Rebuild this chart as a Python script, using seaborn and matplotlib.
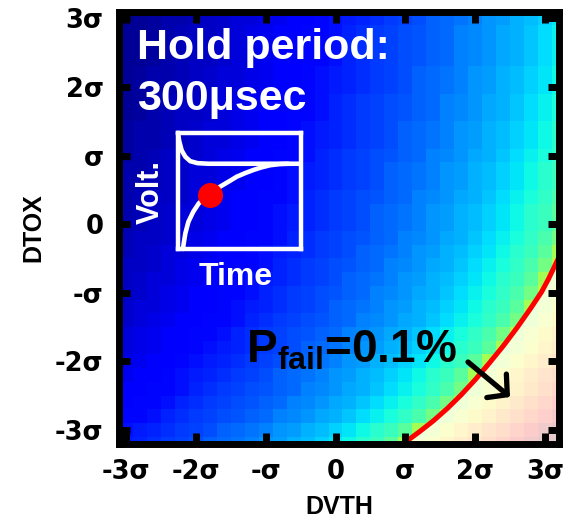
import numpy as np
import pandas as pd
import matplotlib
matplotlib.use("Agg")
import matplotlib.pyplot as plt
import seaborn as sns
from matplotlib.patches import Polygon

# ---------------- data ----------------
dvth_sigma = [-3.0, -2.8, -2.6, -2.4, -2.2, -2.0, -1.8, -1.6, -1.4, -1.2, -1.0, -0.8,
              -0.6, -0.4, -0.2, 0.0, 0.2, 0.4, 0.6, 0.8, 1.0, 1.2, 1.4, 1.6,
              1.8, 2.0, 2.2, 2.4, 2.6, 2.8, 3.0, 3.2]
dtox_sigma = [3.0, 2.8, 2.6, 2.4, 2.2, 2.0, 1.8, 1.6, 1.4, 1.2, 1.0, 0.8,
              0.6, 0.4, 0.2, 0.0, -0.2, -0.4, -0.6, -0.8, -1.0, -1.2, -1.4, -1.6,
              -1.8, -2.0, -2.2, -2.4, -2.6, -2.8, -3.0, -3.2]

# colour level of each cell (0 = dark blue ... 1 = dark red), rows top -> bottom
pfail_map = [
    [.01,.02,.03,.04,.04,.05,.06,.07,.08,.08,.09,.10,.11,.12,.13,.14,.15,.16,.17,.18,.19,.20,.22,.23,.24,.25,.27,.28,.30,.31,.33,.35],
    [.02,.02,.03,.04,.05,.06,.06,.07,.08,.09,.10,.11,.12,.13,.13,.14,.16,.17,.18,.19,.20,.21,.22,.23,.25,.26,.27,.29,.30,.32,.34,.36],
    [.02,.02,.03,.04,.05,.06,.06,.07,.08,.09,.10,.11,.12,.13,.13,.14,.16,.17,.18,.19,.20,.21,.22,.23,.25,.26,.27,.29,.30,.32,.34,.36],
    [.02,.02,.03,.04,.05,.06,.06,.07,.08,.09,.10,.11,.12,.13,.13,.14,.16,.17,.18,.19,.20,.21,.22,.23,.25,.26,.27,.29,.30,.32,.34,.36],
    [.02,.03,.04,.04,.05,.06,.07,.08,.08,.09,.10,.11,.12,.13,.14,.15,.16,.17,.18,.19,.20,.22,.23,.24,.25,.27,.28,.30,.31,.33,.35,.37],
    [.02,.03,.04,.04,.05,.06,.07,.08,.08,.09,.10,.11,.12,.13,.14,.15,.16,.17,.18,.19,.20,.22,.23,.24,.25,.27,.28,.30,.31,.33,.35,.37],
    [.02,.03,.04,.05,.06,.06,.07,.08,.09,.10,.11,.12,.13,.13,.14,.16,.17,.18,.19,.20,.21,.22,.23,.25,.26,.27,.29,.30,.32,.34,.36,.38],
    [.02,.03,.04,.05,.06,.06,.07,.08,.09,.10,.11,.12,.13,.13,.14,.16,.17,.18,.19,.20,.21,.22,.23,.25,.26,.27,.29,.30,.32,.34,.36,.38],
    [.03,.04,.04,.05,.06,.07,.08,.08,.09,.10,.11,.12,.13,.14,.15,.16,.17,.18,.19,.20,.22,.23,.24,.25,.27,.28,.30,.31,.33,.35,.37,.40],
    [.03,.04,.04,.05,.06,.07,.08,.08,.09,.10,.11,.12,.13,.14,.15,.16,.17,.18,.19,.20,.22,.23,.24,.25,.27,.28,.30,.31,.33,.35,.37,.40],
    [.03,.04,.05,.06,.06,.07,.08,.09,.10,.11,.12,.13,.13,.14,.16,.17,.18,.19,.20,.21,.22,.23,.25,.26,.27,.29,.30,.32,.34,.36,.38,.41],
    [.04,.04,.05,.06,.07,.08,.08,.09,.10,.11,.12,.13,.14,.15,.16,.17,.18,.19,.20,.22,.23,.24,.25,.27,.28,.30,.31,.33,.35,.37,.40,.42],
    [.04,.04,.05,.06,.07,.08,.08,.09,.10,.11,.12,.13,.14,.15,.16,.17,.18,.19,.20,.22,.23,.24,.25,.27,.28,.30,.31,.33,.35,.37,.40,.42],
    [.04,.05,.06,.06,.07,.08,.09,.10,.11,.12,.13,.13,.14,.16,.17,.18,.19,.20,.21,.22,.23,.25,.26,.27,.29,.30,.32,.34,.36,.38,.41,.44],
    [.04,.05,.06,.07,.08,.08,.09,.10,.11,.12,.13,.14,.15,.16,.17,.18,.19,.20,.22,.23,.24,.25,.27,.28,.30,.31,.33,.35,.37,.40,.42,.46],
    [.04,.05,.06,.07,.08,.08,.09,.10,.11,.12,.13,.14,.15,.16,.17,.18,.19,.20,.22,.23,.24,.25,.27,.28,.30,.31,.33,.35,.37,.40,.42,.46],
    [.05,.06,.06,.07,.08,.09,.10,.11,.12,.13,.13,.14,.16,.17,.18,.19,.20,.21,.22,.23,.25,.26,.27,.29,.30,.32,.34,.36,.38,.41,.44,.49],
    [.05,.06,.07,.08,.08,.09,.10,.11,.12,.13,.14,.15,.16,.17,.18,.19,.20,.22,.23,.24,.25,.27,.28,.30,.31,.33,.35,.37,.40,.42,.46,.55],
    [.06,.06,.07,.08,.09,.10,.11,.12,.13,.13,.14,.16,.17,.18,.19,.20,.21,.22,.23,.25,.26,.27,.29,.30,.32,.34,.36,.38,.41,.44,.49,.57],
    [.06,.07,.08,.08,.09,.10,.11,.12,.13,.14,.15,.16,.17,.18,.19,.20,.22,.23,.24,.25,.27,.28,.30,.31,.33,.35,.37,.40,.42,.46,.55,.59],
    [.06,.07,.08,.09,.10,.11,.12,.13,.13,.14,.16,.17,.18,.19,.20,.21,.22,.23,.25,.26,.27,.29,.30,.32,.34,.36,.38,.41,.44,.49,.57,.62],
    [.07,.08,.08,.09,.10,.11,.12,.13,.14,.15,.16,.17,.18,.19,.20,.22,.23,.24,.25,.27,.28,.30,.31,.33,.35,.37,.40,.42,.46,.55,.59,.64],
    [.07,.08,.09,.10,.11,.12,.13,.13,.14,.16,.17,.18,.19,.20,.21,.22,.23,.25,.26,.27,.29,.30,.32,.34,.36,.38,.41,.44,.49,.57,.62,.66],
    [.08,.09,.10,.11,.12,.13,.13,.14,.16,.17,.18,.19,.20,.21,.22,.23,.25,.26,.27,.29,.30,.32,.34,.36,.38,.41,.44,.49,.57,.62,.66,.70],
    [.08,.09,.10,.11,.12,.13,.14,.15,.16,.17,.18,.19,.20,.22,.23,.24,.25,.27,.28,.30,.31,.33,.35,.37,.40,.42,.46,.55,.59,.64,.68,.73],
    [.09,.10,.11,.12,.13,.14,.15,.16,.17,.18,.19,.20,.22,.23,.24,.25,.27,.28,.30,.31,.33,.35,.37,.40,.42,.46,.55,.59,.64,.68,.73,.77],
    [.10,.11,.12,.13,.14,.15,.16,.17,.18,.19,.20,.22,.23,.24,.25,.27,.28,.30,.31,.33,.35,.37,.40,.42,.46,.55,.59,.64,.68,.73,.77,.81],
    [.11,.12,.13,.13,.14,.16,.17,.18,.19,.20,.21,.22,.23,.25,.26,.27,.29,.30,.32,.34,.36,.38,.41,.44,.49,.57,.62,.66,.70,.75,.79,.84],
    [.12,.13,.13,.14,.16,.17,.18,.19,.20,.21,.22,.23,.25,.26,.27,.29,.30,.32,.34,.36,.38,.41,.44,.49,.57,.62,.66,.70,.75,.79,.84,.88],
    [.13,.13,.14,.16,.17,.18,.19,.20,.21,.22,.23,.25,.26,.27,.29,.30,.32,.34,.36,.38,.41,.44,.49,.57,.62,.66,.70,.75,.79,.84,.88,.92],
    [.14,.15,.16,.17,.18,.19,.20,.22,.23,.24,.25,.27,.28,.30,.31,.33,.35,.37,.40,.42,.46,.55,.59,.64,.68,.73,.77,.81,.86,.90,.95,.99],
    [.15,.16,.17,.18,.19,.20,.22,.23,.24,.25,.27,.28,.30,.31,.33,.35,.37,.40,.42,.46,.55,.59,.64,.68,.73,.77,.81,.86,.90,.95,.99,1.0],
]

# Pfail = 0.1 % contour (sigma units)
curve_dvth = [0.90, 1.00, 1.20, 1.40, 1.60, 1.80, 2.00, 2.20, 2.40, 2.60, 2.80, 2.95, 3.05, 3.20]
curve_dtox = [-3.25, -3.18, -3.03, -2.87, -2.69, -2.49, -2.27, -2.03, -1.78, -1.51, -1.22, -0.99, -0.80, -0.48]

tick_vals = [-3, -2, -1, 0, 1, 2, 3]
tick_labels = ["-3σ", "-2σ", "-σ", "0", "σ", "2σ", "3σ"]

# inset schematic (fractions of the inset box)
inset_hold_t = [0.0, 0.01, 0.03, 0.06, 0.10, 0.16, 0.25, 1.0]
inset_hold_v = [1.0, 0.93, 0.85, 0.795, 0.757, 0.74, 0.735, 0.735]
inset_chg_t = [0.04, 0.05, 0.06, 0.085, 0.125, 0.17, 0.215, 0.261, 0.343, 0.42, 0.479, 0.55, 0.615, 0.68, 0.751, 0.83, 0.9]
inset_chg_v = [0.0, 0.07, 0.135, 0.235, 0.322, 0.394, 0.435, 0.466, 0.537, 0.585, 0.623, 0.655, 0.681, 0.703, 0.722, 0.732, 0.735]
inset_dot_t = [0.261]
inset_dot_v = [0.466]

# ---------------- figure ----------------
plt.rcParams['mathtext.fontset'] = 'custom'
plt.rcParams['mathtext.rm'] = 'Liberation Sans'
plt.rcParams['mathtext.bf'] = 'Liberation Sans:bold'
plt.rcParams['mathtext.it'] = 'Liberation Sans:italic'

W, H = 573, 524
fig = plt.figure(figsize=(W / 100, H / 100), dpi=100)
fig.patch.set_facecolor('white')


def P(px, py):
    return (px / W, 1 - py / H)


ax = fig.add_axes([119 / W, 1 - 443.5 / H, 440 / W, 432 / H])
df = pd.DataFrame(pfail_map, index=dtox_sigma, columns=dvth_sigma)
sns.heatmap(df, cmap='jet', vmin=0, vmax=1, cbar=False, ax=ax,
            xticklabels=False, yticklabels=False)

step = dvth_sigma[1] - dvth_sigma[0]


def cx(v):
    return (np.asarray(v, dtype=float) - dvth_sigma[0]) / step + 0.5


def cy(v):
    return (dtox_sigma[0] - np.asarray(v, dtype=float)) / step + 0.5


ax.set_xlim(cx(-3.1), cx(3.2))
ax.set_ylim(cy(-3.2), cy(3.1))

# whitened failure region + contour
poly_x = list(curve_dvth) + [3.5, 3.5, 0.8]
poly_y = list(curve_dtox) + [-0.3, -3.5, -3.5]
ax.add_patch(Polygon(np.column_stack([cx(poly_x), cy(poly_y)]), closed=True,
                     facecolor='white', edgecolor='none', alpha=0.8, zorder=1.1))
ax.plot(cx(curve_dvth), cy(curve_dtox), color='red', lw=3.6, zorder=1.3)

ax.set_xticks(cx(tick_vals))
ax.set_xticklabels(tick_labels)
ax.set_yticks(cy(tick_vals))
ax.set_yticklabels(tick_labels, rotation=0)
ax.tick_params(axis='both', which='major', direction='in', length=8, width=5,
               top=True, right=True, bottom=True, left=True, pad=11,
               labelsize=18.5, colors='black')
for lab in ax.get_xticklabels() + ax.get_yticklabels():
    lab.set_fontweight('bold')
    lab.set_family('DejaVu Sans')

for s in ax.spines.values():
    s.set_visible(True)
    s.set_linewidth(5)
    s.set_color('black')
    s.set_zorder(3)

ax.set_xlabel('DVTH', fontsize=18, fontweight='bold', family='Liberation Sans', labelpad=7)
ax.set_ylabel('DTOX', fontsize=18, fontweight='bold', family='Liberation Sans', labelpad=7)

# texts
fig.text(*P(137, 59), 'Hold period:', color='white', fontsize=31, fontweight='bold',
         family='Liberation Sans', ha='left', va='baseline')
fig.text(*P(137, 110), '300μsec', color='white', fontsize=31, fontweight='bold',
         family='Liberation Sans', ha='left', va='baseline')
fig.text(*P(151, 192), 'Volt.', color='white', fontsize=22, fontweight='bold',
         family='Liberation Sans', ha='center', va='center', rotation=90)
fig.text(*P(236, 285), 'Time', color='white', fontsize=23, fontweight='bold',
         family='Liberation Sans', ha='center', va='baseline')
fig.text(*P(246, 362), r'$\mathbf{P}_{\mathbf{fail}}$=0.1%', color='black', fontsize=33,
         fontweight='bold', family='Liberation Sans', ha='left', va='baseline')

ax.annotate('', xy=P(510, 397), xycoords='figure fraction',
            xytext=P(468, 362), textcoords='figure fraction',
            arrowprops=dict(arrowstyle='->,head_length=1.0,head_width=1.1',
                            lw=3.8, color='black', shrinkA=0, shrinkB=0))

# inset schematic
iax = fig.add_axes([178 / W, 1 - 249 / H, 122.5 / W, 116 / H])
iax.set_xlim(0, 1)
iax.set_ylim(0, 1)
iax.patch.set_alpha(0)
iax.set_xticks([])
iax.set_yticks([])
for s in iax.spines.values():
    s.set_color('white')
    s.set_linewidth(3.2)
    s.set_joinstyle('round')
iax.plot(inset_hold_t, inset_hold_v, color='white', lw=3.3, clip_on=False, solid_capstyle='round')
iax.plot(inset_chg_t, inset_chg_v, color='white', lw=3.3, clip_on=False, solid_capstyle='round')
iax.plot(inset_dot_t, inset_dot_v, 'o', color='red', ms=18, mec='none', clip_on=False)

fig.savefig('out.png', dpi=100)
